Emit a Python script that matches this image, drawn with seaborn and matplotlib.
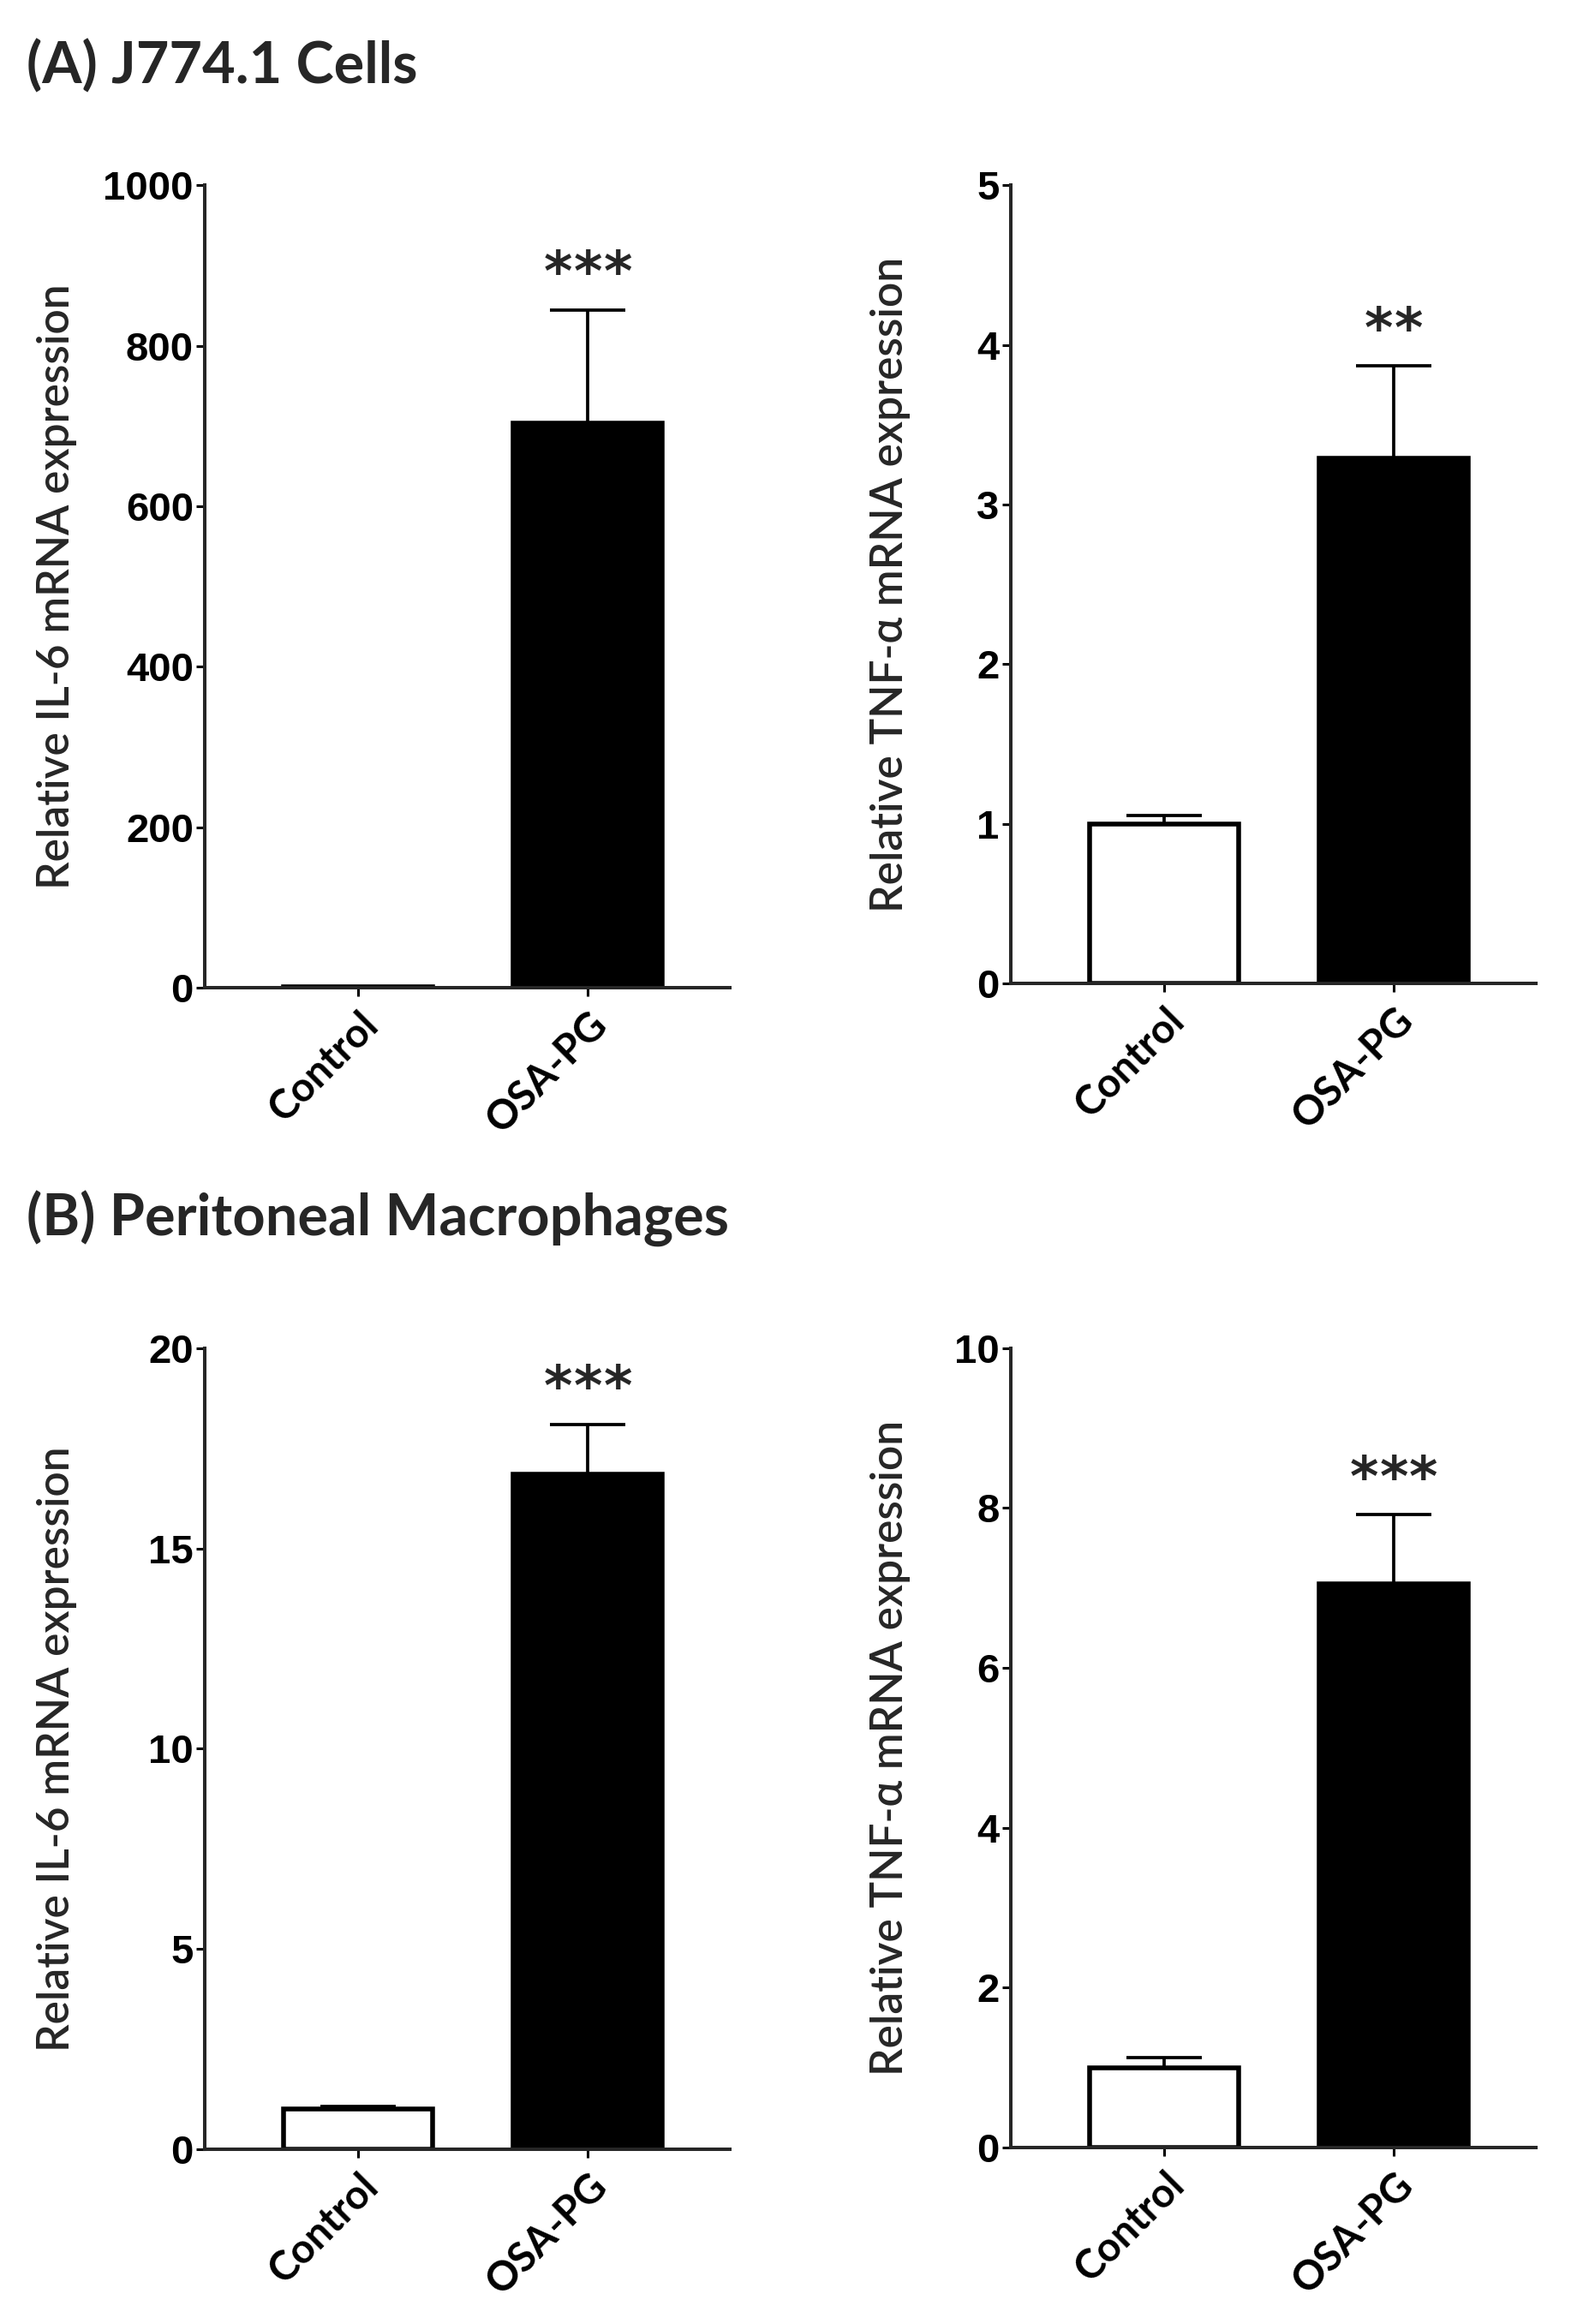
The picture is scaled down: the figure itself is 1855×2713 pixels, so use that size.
import numpy as np
import pandas as pd
import matplotlib
matplotlib.use("Agg")
import matplotlib.pyplot as plt
import seaborn as sns

# values (mean, upper SEM end)
groups = ["Control", "OSA-PG"]

il6_a = [1.5, 704]
il6_a_err = [0.5, 845]
tnf_a = [1.0, 3.29]
tnf_a_err = [1.05, 3.87]

il6_b = [1.0, 16.85]
il6_b_err = [1.07, 18.1]
tnf_b = [1.0, 7.05]
tnf_b_err = [1.13, 7.92]

stars = [3, 2, 3, 3]
ymax = [1000, 5, 20, 10]
yticks = [[0, 200, 400, 600, 800, 1000], [0, 1, 2, 3, 4, 5],
          [0, 5, 10, 15, 20], [0, 2, 4, 6, 8, 10]]
ylabels = ["Relative IL-6 mRNA expression", "Relative TNF-\u03b1 mRNA expression",
           "Relative IL-6 mRNA expression", "Relative TNF-\u03b1 mRNA expression"]

sns.set_style("ticks")
plt.rcParams['font.family'] = ['Lato', 'DejaVu Sans']

fig = plt.figure(figsize=(18.55, 27.13), dpi=100)

# axes boxes [left, bottom, width, height] in figure fraction
boxes = [
    [0.1289, 0.5750, 0.3305, 0.3452],
    [0.6360, 0.5769, 0.3305, 0.3433],
    [0.1289, 0.0753, 0.3305, 0.3446],
    [0.6360, 0.0759, 0.3305, 0.3440],
]
label_x = [-0.244, -0.19, -0.244, -0.19]

means = [il6_a, tnf_a, il6_b, tnf_b]
tops = [il6_a_err, tnf_a_err, il6_b_err, tnf_b_err]

for i in range(4):
    ax = fig.add_axes(boxes[i])
    df = pd.DataFrame({"group": groups, "value": means[i]})
    sns.barplot(data=df, x="group", y="value", hue="group",
                palette=["white", "black"], edgecolor="black",
                linewidth=4.0, width=0.65, legend=False, ax=ax)
    # upper error bars only
    up = np.array(tops[i]) - np.array(means[i])
    up = np.clip(up, 0, None)
    ax.errorbar([0, 1], means[i], yerr=[np.zeros(2), up], fmt="none",
                ecolor="black", elinewidth=2.7, capsize=32, capthick=2.7)
    n = stars[i]
    for k in range(n):
        ax.annotate("*", xy=(1, tops[i][1]), xytext=((k - (n - 1) / 2) * 25, 16),
                    textcoords="offset points", ha="center", va="baseline",
                    fontsize=46, fontweight="bold", family="DejaVu Sans")
    ax.set_xlim(-0.67, 1.62)
    ax.set_ylim(0, ymax[i])
    ax.set_yticks(yticks[i])
    ax.set_yticklabels([str(t) for t in yticks[i]], family="Liberation Sans",
                       fontweight="bold", fontsize=34)
    ax.set_xticks([0, 1])
    ax.set_xticklabels(groups, rotation=45, ha="right", va="top",
                       rotation_mode="anchor", fontweight="bold", fontsize=34)
    ax.set_xlabel("")
    ax.set_ylabel(ylabels[i], fontsize=37, fontweight="semibold")
    ax.yaxis.set_label_coords(label_x[i], 0.5)
    sns.despine(ax=ax)
    for s in ["left", "bottom"]:
        ax.spines[s].set_linewidth(2.9)
    ax.tick_params(axis="both", width=2.2, length=7, colors="black")
    ax.tick_params(axis="y", pad=2.5)
    ax.tick_params(axis="x", pad=8)

fig.text(0.0168, 0.9713, "(A) J774.1 Cells", fontsize=48, fontweight="bold",
         va="center", ha="left")
fig.text(0.0168, 0.4754, "(B) Peritoneal Macrophages", fontsize=48,
         fontweight="bold", va="center", ha="left")

fig.savefig("out.png", dpi=100, facecolor="white")
